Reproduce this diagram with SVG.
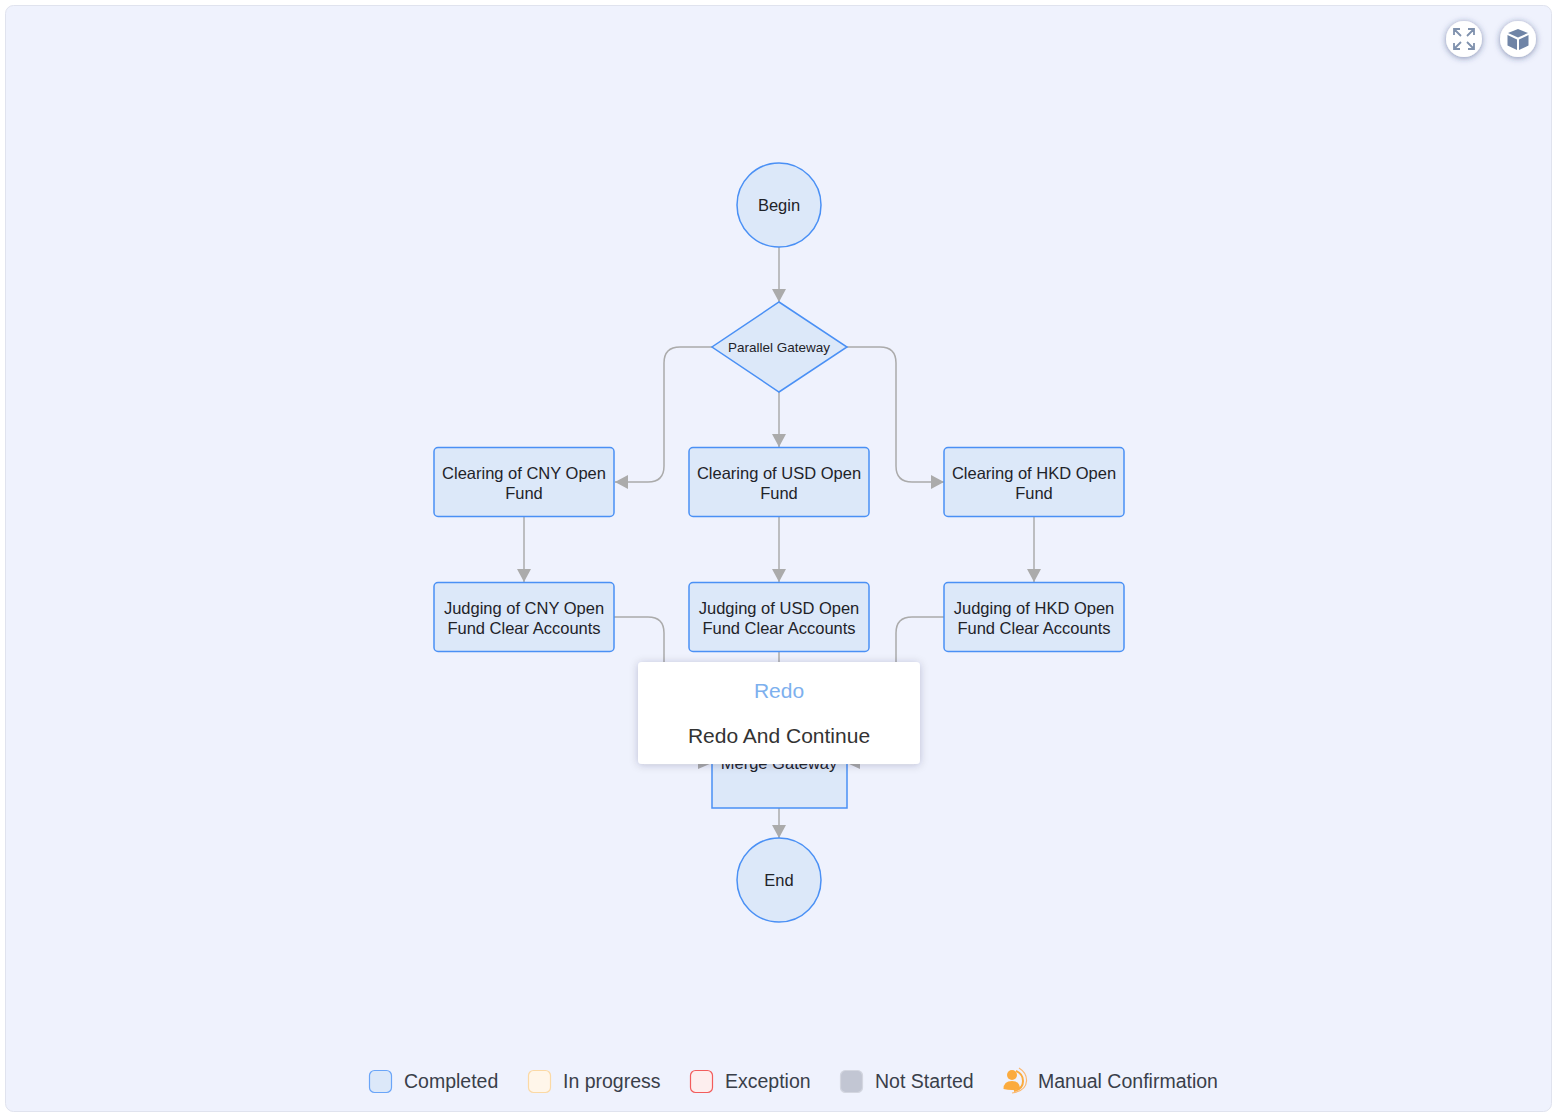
<svg xmlns="http://www.w3.org/2000/svg" width="1557" height="1119" viewBox="0 0 1557 1119">
<style>
text{font-family:"Liberation Sans",Arial,sans-serif;fill:#1f2329;text-anchor:middle;font-size:16.500px}
.n{fill:#dce8f9;stroke:#4a90f5;stroke-width:1.5}
.c{fill:none;stroke:#ababab;stroke-width:1.5}
.l{font-size:19.500px;fill:#3a3f4a;text-anchor:start}
.sw{stroke-width:1.2}
</style>
<defs>
<marker id="a" markerUnits="userSpaceOnUse" markerWidth="14" markerHeight="14" refX="13" refY="7" orient="auto"><path d="M0 0L13 7L0 14Z" fill="#ababab"/></marker>
<filter id="s" x="-20%" y="-30%" width="140%" height="160%"><feDropShadow dx="0" dy="1" stdDeviation="4" flood-color="#1a2340" flood-opacity=".22"/></filter>
<filter id="s2" x="-40%" y="-40%" width="180%" height="180%"><feDropShadow dx="0" dy="1" stdDeviation="3" flood-color="#2a3a70" flood-opacity=".55"/></filter>
</defs>
<rect x="5.500" y="5.500" width="1546" height="1106" rx="8" fill="#eff2fd" stroke="#e0e3ee"/>
<g id="connectors">
<path class="c" marker-end="url(#a)" d="M779 247V302"/>
<path class="c" marker-end="url(#a)" d="M779 392V447"/>
<path class="c" marker-end="url(#a)" d="M712 347H680Q664 347 664 363V466Q664 482 648 482H615"/>
<path class="c" marker-end="url(#a)" d="M847 347H880Q896 347 896 363V466Q896 482 912 482H944"/>
<path class="c" marker-end="url(#a)" d="M524 517V582"/>
<path class="c" marker-end="url(#a)" d="M779 517V582"/>
<path class="c" marker-end="url(#a)" d="M1034 517V582"/>
<path class="c" d="M614 617H648Q664 617 664 633V665"/>
<path class="c" d="M944 617H912Q896 617 896 633V665"/>
<path class="c" d="M779 652V665"/>
<path class="c" marker-end="url(#a)" d="M779 808V838"/>
<path d="M698 769L712 763L698 757Z" fill="#ababab"/>
<path d="M860 769L847 763L860 757Z" fill="#ababab"/>
</g>
<g id="begin"><circle class="n" cx="779" cy="205" r="42"/><text x="779" y="211">Begin</text></g>
<g id="parallel"><path class="n" d="M779 302L847 347L779 392L712 347Z"/><text x="779" y="351.500" style="font-size:13.500px">Parallel Gateway</text></g>
<g id="clear-cny"><rect class="n" x="434" y="447.500" width="180" height="69" rx="4"/><text x="524" y="479">Clearing of CNY Open</text><text x="524" y="499">Fund</text></g>
<g id="clear-usd"><rect class="n" x="689" y="447.500" width="180" height="69" rx="4"/><text x="779" y="479">Clearing of USD Open</text><text x="779" y="499">Fund</text></g>
<g id="clear-hkd"><rect class="n" x="944" y="447.500" width="180" height="69" rx="4"/><text x="1034" y="479">Clearing of HKD Open</text><text x="1034" y="499">Fund</text></g>
<g id="judge-cny"><rect class="n" x="434" y="582.500" width="180" height="69" rx="4"/><text x="524" y="614">Judging of CNY Open</text><text x="524" y="634">Fund Clear Accounts</text></g>
<g id="judge-usd"><rect class="n" x="689" y="582.500" width="180" height="69" rx="4"/><text x="779" y="614">Judging of USD Open</text><text x="779" y="634">Fund Clear Accounts</text></g>
<g id="judge-hkd"><rect class="n" x="944" y="582.500" width="180" height="69" rx="4"/><text x="1034" y="614">Judging of HKD Open</text><text x="1034" y="634">Fund Clear Accounts</text></g>
<g id="merge"><rect class="n" x="712" y="720" width="135" height="88"/><text x="779" y="769">Merge Gateway</text></g>
<g id="end"><circle class="n" cx="779" cy="880" r="42"/><text x="779" y="886">End</text></g>
<g id="popup"><rect x="638" y="662" width="282" height="102" rx="4" fill="#fff" filter="url(#s)"/>
<text x="779" y="698" style="font-size:21px;fill:#7db0ee">Redo</text>
<text x="779" y="743" style="font-size:21px;fill:#333">Redo And Continue</text></g>
<g id="btn-expand"><circle cx="1464" cy="39" r="18" fill="#fff" filter="url(#s2)"/>
<path d="M1454 35V29H1460M1454 29L1461 36M1474 35V29H1468M1474 29L1467 36M1454 43V49H1460M1454 49L1461 42M1474 43V49H1468M1474 49L1467 42" fill="none" stroke="#7f91ad" stroke-width="1.800"/></g>
<g id="btn-cube"><circle cx="1518" cy="39" r="18" fill="#fff" filter="url(#s2)"/>
<path d="M1518 29L1528 33L1518 37.500L1508 33Z" fill="#6f84a6"/><path d="M1507.500 35L1517 39.500V50L1507.500 45.500Z" fill="#6f84a6"/><path d="M1528.500 35L1519 39.500V50L1528.500 45.500Z" fill="#6f84a6"/></g>
<g id="legend">
<rect class="sw" x="369.500" y="1070.500" width="22" height="22" rx="5" fill="#dce8f9" stroke="#6aa5f8"/><text class="l" x="404" y="1088">Completed</text>
<rect class="sw" x="528.500" y="1070.500" width="22" height="22" rx="5" fill="#fff6ea" stroke="#fbd9a5"/><text class="l" x="563" y="1088">In progress</text>
<rect class="sw" x="690.500" y="1070.500" width="22" height="22" rx="5" fill="#fdeeee" stroke="#f25c5c"/><text class="l" x="725" y="1088">Exception</text>
<rect class="sw" x="840.500" y="1070.500" width="22" height="22" rx="5" fill="#c2c6d3" stroke="#d3d6e0"/><text class="l" x="875" y="1088">Not Started</text>
<g id="manual-icon"><circle cx="1012" cy="1075" r="5" fill="#fbab3e"/><path d="M1003.500 1089Q1003.500 1081 1012 1081Q1020 1081 1020 1089Q1012 1091 1003.500 1089Z" fill="#fbab3e"/>
<path d="M1016 1071Q1023 1074 1023 1081Q1023 1089 1014 1091" fill="none" stroke="#fbab3e" stroke-width="2"/><path d="M1019 1068Q1027 1073 1026.500 1081Q1026 1091 1012 1093" fill="none" stroke="#fbb870" stroke-width="1.200"/></g>
<text class="l" x="1038" y="1088">Manual Confirmation</text>
</g>
</svg>
